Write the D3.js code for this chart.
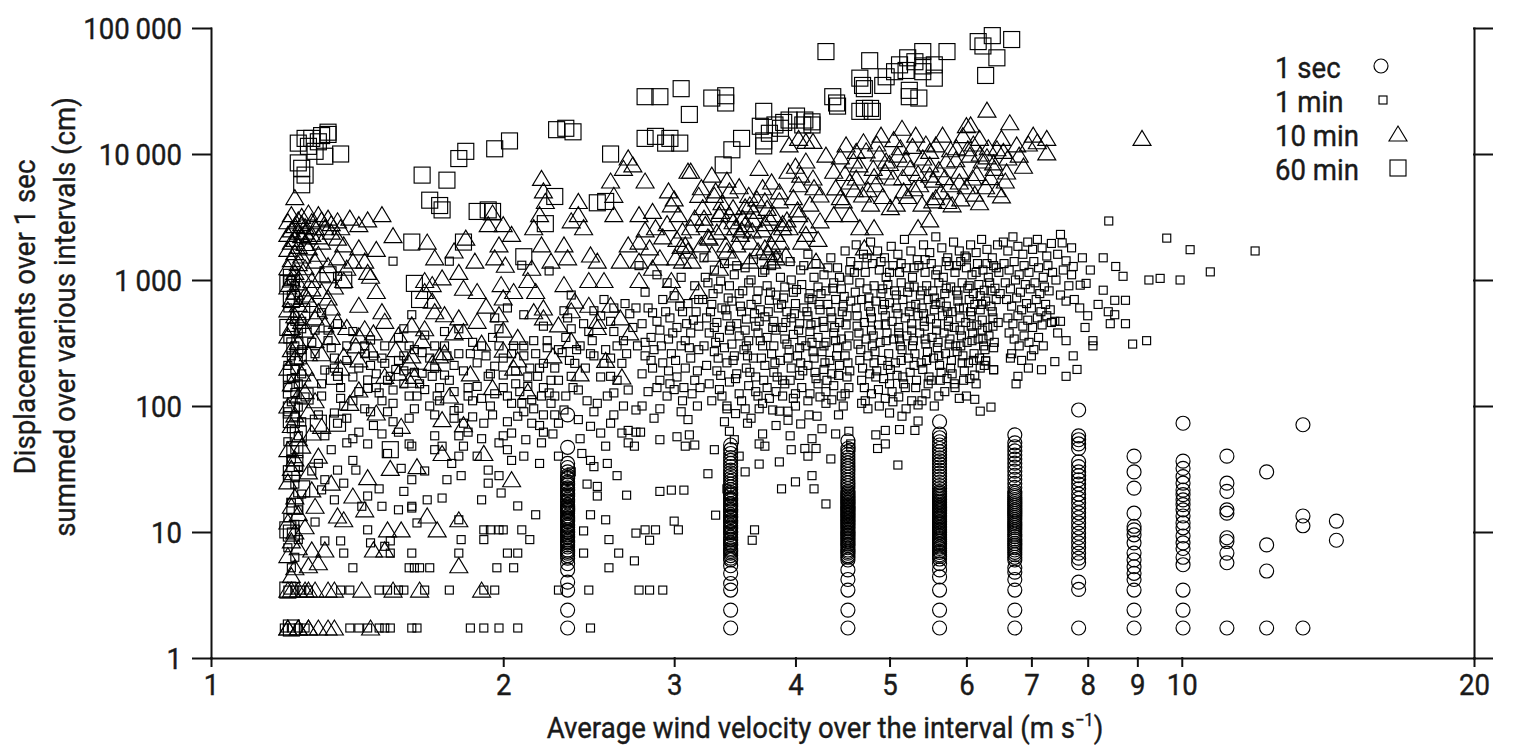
<!DOCTYPE html>
<html>
<head>
<meta charset="utf-8">
<script src="https://cdn.jsdelivr.net/npm/d3@7"></script>
<style>
  body { margin: 0; background: #fff; }
  text { font-family: Roboto, "Liberation Sans", sans-serif; fill: #1a1a1a; stroke: #1a1a1a; stroke-width: 0.4px; }
</style>
</head>
<body>
<svg id="chart" width="1515" height="753"></svg>
<script>
// ---- data (velocity m/s, displacement cm) ----
const xTicks = [1, 2, 3, 4, 5, 6, 7, 8, 9, 10, 20];
const yTicks = [1, 10, 100, 1000, 10000, 100000];
const legendNames = ["1 sec", "1 min", "10 min", "60 min"];

// 1 sec: velocities come in columns
const secVel = [2.33, 3.43, 4.53, 5.63, 6.73, 7.83, 8.93, 10.03, 11.13, 12.23, 13.33, 14.43];
const secDisp = [
  [1.73,2.4,3.46,4.0,5.0,5.6,6.2,6.5,6.8,7.0,7.2,7.6,7.9,8.2,8.4,8.6,9.0,9.2,9.5,9.9,10.1,10.4,10.9,11.2,11.5,12.1,12.4,12.7,13.0,13.4,14.1,14.5,14.9,15.2,15.6,16.0,16.4,17.3,17.7,18.2,19.2,19.7,20.2,21.3,21.8,22.4,23.6,24.2,25,26.5,27,28,30,32.5,35,47,85],
  [1.73,2.4,3.46,3.9,4.7,5.4,6.0,6.2,6.5,6.8,7.0,7.2,7.4,7.8,8.0,8.2,8.6,8.8,9.1,9.6,9.9,10.1,10.6,10.9,11.2,11.8,12.1,12.4,13.0,13.3,13.7,14.4,14.8,15.2,16.0,16.4,16.8,17.7,18.2,18.6,19.6,20.1,20.6,21.7,22.8,24,25.3,26.6,28,29.5,31,33,35,37,39,42,45,49],
  [1.73,2.4,3.46,4.2,5.0,6.0,6.3,6.5,6.8,7.0,7.2,7.5,7.8,8.0,8.3,8.5,8.8,9.0,9.3,9.5,9.8,10,10.3,10.6,10.9,11.2,11.5,11.8,12.1,12.4,12.8,13.1,13.5,13.8,14.2,14.5,14.9,15.3,15.7,16.1,16.5,17,17.4,17.9,18.4,18.9,19.4,19.9,20.5,21,22.1,23.3,24.5,25.8,27.2,28.7,30.2,31.8,33.5,35.3,37.2,39.2,41.3,43.5,46,53],
  [1.73,2.4,3.46,4.4,5.0,5.6,6.1,6.4,6.6,6.9,7.1,7.4,7.6,7.9,8.1,8.4,8.7,9.0,9.3,9.6,9.9,10.2,10.5,10.8,11.1,11.5,11.8,12.1,12.5,12.9,13.2,13.6,14.0,14.4,14.8,15.2,15.7,16.1,16.6,17.1,17.6,18.1,18.6,19.2,19.7,20.3,20.9,22.1,23.4,24.8,26.2,27.7,29.3,31,32.8,34.7,36.7,38.8,41,43.5,46,49,52,56,60,75],
  [1.73,2.4,3.46,4.2,4.8,5.2,6.0,6.3,6.6,6.9,7.2,7.5,7.8,8.1,8.5,8.8,9.2,9.6,10.0,10.4,10.8,11.2,11.6,12.0,12.5,13.0,13.5,14.0,14.5,15.0,15.6,16.2,16.8,17.4,18.1,18.8,19.5,20.2,21,22.6,24.3,26.2,28.2,30.4,32.7,35.2,37.9,40.8,44,47.5,51,59],
  [1.73,3.5,4.0,5.7,6.2,6.8,7.5,8.2,9,9.8,10.8,11.8,13,14.2,15.5,17,18.5,20,22,24,26,28,30,33,36,46,50,54,58,93],
  [1.73,2.4,3.46,4.2,4.7,5.3,6.0,6.8,8.2,9.5,10.4,11.1,14.1,22.3,30,40],
  [1.73,2.4,3.46,5.5,6.3,7.4,8.2,9.3,10.8,11.8,13.4,15,16.5,18,19.8,21.5,24.4,27.5,32,36.5,73],
  [1.73,5.7,6.8,8.4,9.0,14.1,15,21,24.4,40],
  [1.73,4.9,7.9,30],
  [1.73,11.2,13.4,71],
  [8.6,12.2]
];

// 1 min
const minPts = [
  [1.20,1000],[1.22,900],[1.21,760],[1.23,690],[1.20,600],[1.22,520],[1.24,470],[1.21,420],[1.23,380],[1.20,340],[1.22,300],[1.24,280],[1.21,250],[1.23,230],[1.20,210],[1.22,195],[1.24,180],[1.21,165],[1.23,150],[1.20,140],[1.22,128],[1.25,118],[1.21,108],[1.23,98],[1.20,90],[1.22,82],[1.24,75],[1.21,66],[1.23,58],[1.20,52],[1.22,45],[1.21,38],[1.23,33],[1.20,28],[1.22,24],[1.24,20],[1.21,17],[1.23,15],[1.20,13],[1.22,11.5],[1.21,10],[1.23,8.7],[1.20,7.5],[1.22,6.3],[1.21,5.2],[1.20,3.46],[1.22,3.46],[1.24,3.46],[1.26,3.46],[1.19,1.73],[1.21,1.73],[1.23,1.73],[1.25,1.73],
  [1.27,320],[1.31,193],[1.35,172],[1.30,120],[1.34,88],[1.35,73],[1.31,58],[1.38,51],[1.33,45],[1.29,35],[1.27,30.5],[1.31,26],[1.35,31],[1.37,24.4],[1.30,21.6],
  [1.40,37],[1.41,31],[1.45,161],[1.45,138],[1.49,127],[1.54,134],[1.53,172],[1.51,218],[1.58,250],[1.60,300],[1.65,265],[1.61,48],[1.61,26],[1.61,16],[1.58,21],[1.56,15],
  [1.28,400],[1.24,410],[1.22,470],[1.30,550],[1.32,400],[1.35,450],[1.40,390],[1.46,334],[1.56,350],[1.58,410],[1.61,530],[1.66,365],[1.21,990],[1.35,1070],
  [1.28,260],[1.33,290],[1.38,230],[1.42,200],[1.30,150],[1.36,140],[1.40,110],[1.44,95],[1.48,180],[1.50,110],[1.52,90],[1.47,70],[1.42,62],[1.56,62],[1.60,80],[1.63,120],[1.58,150],[1.55,195],[1.62,185],[1.47,250],[1.51,300],[1.44,300],[1.34,240],[1.29,85],[1.37,100],[1.45,50],[1.52,42],[1.57,32],[1.49,22],[1.43,16],[1.34,18],[1.28,12],[1.36,8.5],[1.45,10.4],[1.53,8.5],[1.46,8.2],[1.51,7.7],[1.31,8.5],[1.63,11.8],[1.45,19.3],[1.50,16],[1.61,15.5],
  [1.39,1.73],[1.42,1.73],[1.45,1.73],[1.49,1.73],[1.51,1.73],[1.53,1.73],[1.61,1.73],[1.63,1.73],[1.36,3.46],[1.39,3.46],[1.49,3.46],[1.52,3.46],[1.56,3.46],[1.58,3.46],[1.40,5.2],[1.60,5.2],[1.62,5.2],[1.64,5.2],[1.37,6.8],[1.53,6.8],[1.61,6.8],
  [1.69,172],[1.71,120],[1.74,176],[1.65,182],[1.73,48],[1.70,58],[1.66,30.5],
  [1.80,96],[1.84,120],[1.88,143],[1.93,172],[1.96,207],[2.00,176],[2.04,105],[2.07,83],[2.09,105],[2.12,143],[2.17,172],[2.20,218],[1.80,58],[1.82,48],[1.88,40],[1.93,31],[1.98,28],[1.99,20.4],[2.04,37],[2.11,54],[2.14,73],[2.19,51],[2.20,85],[2.19,120],[1.91,73],[1.82,73],[1.77,35],[1.81,28],[1.93,24.4],[1.98,51],[2.04,61],[2.24,105],[2.23,127],
  [1.54,1410],[1.76,1410],[2.09,1310],[2.23,1180],[2.10,530],[2.02,600],[1.96,500],[1.98,410],[1.80,410],[1.74,390],[2.20,430],
  [1.70,300],[1.75,250],[1.78,210],[1.85,260],[1.90,300],[1.95,350],[2.00,240],[2.05,300],[2.10,250],[2.15,330],[2.22,290],[2.26,200],[2.13,200],[1.72,140],[1.68,100],[1.86,110],[2.06,150],[2.28,160],[1.78,80],[1.95,85],[2.15,95],[2.25,60],[1.84,62],[2.02,45],[1.90,18],[2.18,35],[2.28,40],[1.75,26],
  [1.32,330],[1.38,300],[1.44,260],[1.50,240],[1.56,230],[1.62,280],[1.68,240],[1.74,300],[1.80,260],[1.86,320],[1.92,250],[1.98,300],[2.04,260],[2.10,300],[2.16,260],[2.22,330],[2.28,280],[1.34,200],[1.40,170],[1.46,210],[1.52,160],[1.58,190],[1.64,150],[1.70,200],[1.76,160],[1.82,190],[1.88,220],[1.94,180],[2.00,140],[2.06,190],[2.12,170],[2.18,200],[2.24,160],
  [1.36,115],[1.42,130],[1.48,140],[1.54,105],[1.60,120],[1.66,135],[1.72,110],[1.78,130],[1.84,140],[1.90,115],[1.96,125],[2.02,120],[2.08,130],[2.14,112],[2.20,140],[2.26,120],[1.38,80],[1.46,90],[1.54,75],[1.62,95],[1.70,85],[1.78,92],[1.86,82],[1.94,100],[2.02,75],[2.10,90],[2.18,70],[2.26,85],[1.40,55],[1.50,60],[1.60,50],[1.70,45],[1.80,40],[1.90,55],[2.00,58],[2.10,40],[2.20,62],
  [1.73,18.6],[1.67,18],[2.07,16.1],[2.16,13.7],[1.80,12.5],[1.91,10.4],[1.94,10.4],[1.98,10.4],[2.00,10.4],[2.09,10.4],[1.81,8.7],[1.91,8.7],[2.13,8.7],[1.80,6.8],[2.02,6.8],[2.07,6.8],[1.68,5.2],[1.97,5.2],[2.05,5.2],[1.66,3.46],[1.76,3.46],[1.91,3.46],[1.96,3.46],[2.28,3.46],[1.85,1.73],[1.91,1.73],[1.98,1.73],[2.07,1.73],
  [2.30,265],[2.35,172],[2.39,134],[2.48,250],[2.54,218],[2.58,172],[2.65,218],[2.69,134],[2.28,73],[2.39,78],[2.46,69],[2.52,61],[2.58,73],[2.65,61],[2.69,51],[2.41,42],[2.46,37],[2.48,33],[2.56,35],[2.69,64],[2.31,93],[2.50,105],[2.60,127],[2.37,218],
  [2.46,13.7],[2.55,12.5],[2.50,19.3],[2.50,23],[2.68,19.6],[2.42,10.2],[2.63,6.8],[2.42,6.8],[2.57,8.7],[2.57,5.2],[2.45,3.46],[2.46,1.73],
  [2.67,650],[2.35,760],[2.54,700],[2.31,570],[2.48,570],[2.58,470],[2.35,410],[2.45,390],[2.60,390],
  [2.33,500],[2.42,450],[2.52,520],[2.60,600],[2.70,540],[2.38,280],[2.46,260],[2.58,240],[2.66,330],[2.72,420],[2.82,600],[2.94,560],[3.04,620],[3.16,560],[2.88,470],[2.99,380],[3.09,450],[2.80,320],[2.91,300],[3.01,230],[3.11,290],[2.84,230],[2.97,150],[3.07,140],[3.17,190],
  [2.90,21],[2.98,21.5],[3.07,21.5],[3.00,12.2],[3.03,10.4],[2.80,10.4],[2.87,10.4],[2.83,8.6],[2.74,9.8],[2.73,5.9],[2.76,3.46],[2.83,3.46],[2.92,3.46],[3.11,59],[3.02,57],[2.90,54],[3.08,48],[3.15,49],[2.74,62],[2.77,62],[2.73,48],[2.74,93],
  [2.75,300],[2.80,250],[2.86,280],[2.92,220],[2.98,260],[3.05,300],[3.12,240],[3.18,280],[2.78,180],[2.85,200],[2.90,160],[2.96,190],[3.02,170],[3.08,200],[3.15,160],[2.82,130],[2.88,140],[2.95,120],[3.00,135],[3.06,110],[3.13,125],[3.19,140],[2.78,100],[2.90,95],[3.05,90],[3.17,100],[2.86,80],[3.10,78],
  [2.76,1300],[2.88,1100],[2.95,950],[3.05,1050],[3.15,900],[2.80,800],[2.92,700],[3.00,750],[3.10,650],[3.18,700],[2.74,600],[2.85,550],[2.97,500],[3.06,560],[3.14,480],[2.78,450],[2.90,400],[3.02,420],[3.12,380],[3.18,430],[2.84,350],[2.96,340],[3.08,330],
  [2.32,350],[2.40,300],[2.47,330],[2.55,280],[2.62,300],[2.68,260],[2.34,230],[2.43,200],[2.52,170],[2.62,160],[2.36,140],[2.44,110],[2.56,120],[2.66,100],[2.32,120],[2.48,90],[2.60,85],[2.40,55],[2.55,48],[2.35,30],[2.62,28],[2.44,24],
  [3.22,1500],[3.30,1200],[3.38,1350],[3.46,1100],[3.55,1250],[3.62,1450],[3.70,1150],[3.78,1300],[3.86,1050],[3.95,1400],[4.05,1200],[4.12,1600],[4.20,1350],[4.28,1100],[4.35,1500],[4.42,1250],[4.50,1700],[4.56,1400],
  [3.25,950],[3.33,850],[3.42,900],[3.50,780],[3.58,950],[3.66,820],[3.74,900],[3.82,760],[3.90,880],[3.98,800],[4.06,920],[4.14,780],[4.22,880],[4.30,820],[4.38,950],[4.46,850],[4.54,1000],
  [3.21,700],[3.28,640],[3.36,600],[3.44,680],[3.52,560],[3.60,640],[3.68,580],[3.76,690],[3.84,600],[3.92,560],[4.00,650],[4.08,600],[4.16,700],[4.24,580],[4.32,640],[4.40,700],[4.48,620],[4.56,680],
  [3.24,500],[3.32,460],[3.40,520],[3.48,450],[3.56,490],[3.64,430],[3.72,510],[3.80,470],[3.88,420],[3.96,500],[4.04,450],[4.12,520],[4.20,460],[4.28,420],[4.36,500],[4.44,460],[4.52,520],
  [3.26,380],[3.34,350],[3.42,400],[3.50,360],[3.58,330],[3.66,380],[3.74,350],[3.82,400],[3.90,340],[3.98,370],[4.06,330],[4.14,390],[4.22,350],[4.30,320],[4.38,380],[4.46,340],[4.54,360],
  [3.22,300],[3.30,270],[3.38,290],[3.46,250],[3.54,280],[3.62,240],[3.70,300],[3.78,260],[3.86,230],[3.94,280],[4.02,250],[4.10,300],[4.18,240],[4.26,270],[4.34,230],[4.42,290],[4.50,250],
  [3.24,210],[3.32,190],[3.40,220],[3.48,180],[3.56,200],[3.64,170],[3.72,210],[3.80,185],[3.88,160],[3.96,200],[4.04,175],[4.12,210],[4.20,165],[4.28,195],[4.36,180],[4.44,210],[4.52,170],
  [3.26,150],[3.34,135],[3.42,155],[3.50,125],[3.58,145],[3.66,120],[3.74,140],[3.82,130],[3.90,150],[3.98,115],[4.06,140],[4.14,125],[4.22,150],[4.30,130],[4.38,145],[4.46,120],[4.54,140],
  [3.28,110],[3.40,100],[3.55,95],[3.67,95],[3.79,93],[3.85,91],[3.93,91],[3.93,77],[4.13,85],[4.21,83],[4.43,85],[3.47,87],[3.40,95],[3.57,73],[3.42,63],[3.46,54],[4.54,63],[4.56,50],[4.56,47],[3.70,105],[4.00,100],[4.30,105],[4.48,100],
  [3.23,1050],[3.35,980],[3.48,1300],[3.60,1000],[3.72,1200],[3.84,1500],[3.96,1000],[4.08,1300],[4.18,1050],[4.32,1250],[4.44,1050],[4.55,1200],[3.29,780],[3.41,720],[3.53,820],[3.65,700],[3.77,800],[3.89,720],[4.01,840],[4.13,720],[4.25,780],[4.37,860],[4.49,740],
  [3.27,560],[3.39,580],[3.51,620],[3.63,540],[3.75,560],[3.87,640],[3.99,540],[4.11,560],[4.23,640],[4.35,560],[4.47,560],[3.30,420],[3.43,430],[3.55,400],[3.67,470],[3.79,420],[3.91,460],[4.03,400],[4.15,440],[4.27,470],[4.39,420],[4.51,440],
  [3.31,320],[3.44,310],[3.56,300],[3.68,330],[3.80,300],[3.92,310],[4.04,290],[4.16,320],[4.28,300],[4.40,330],[4.52,300],[3.33,240],[3.45,230],[3.57,250],[3.69,240],[3.81,220],[3.93,240],[4.05,220],[4.17,270],[4.29,220],[4.41,250],[4.53,220],
  [3.35,175],[3.47,165],[3.59,185],[3.71,160],[3.83,170],[3.95,160],[4.07,190],[4.19,185],[4.31,160],[4.43,175],[4.55,190],[3.36,120],[3.52,110],[3.64,130],[3.76,115],[3.88,120],[4.00,125],[4.12,110],[4.24,118],[4.36,112],[4.50,125],
  [3.38,75],[3.60,80],[3.82,70],[4.05,72],[4.26,66],[4.40,60],[3.70,60],[3.95,58],[4.12,40],[3.55,30],[3.85,36],[4.35,38],[3.40,22],[4.00,25],
  [3.25,29],[3.31,13.6],[3.63,10.4],[3.61,8.6],[3.87,22],[4.18,22],[4.16,28],[4.30,16.7],[3.67,34.6],[3.96,45],[4.09,46],[4.20,46],[4.16,55],[3.67,50],[3.72,48],[3.30,45],[3.50,40],
  [4.62,1900],[4.70,1600],[4.78,2000],[4.86,1700],[4.94,1500],[5.02,1850],[5.10,1600],[5.18,2100],[5.26,1700],[5.34,1450],[5.42,1900],[5.50,1650],[5.58,2200],[5.66,1800],[5.74,1500],[5.82,2000],[5.90,1700],[5.98,1550],[6.06,1900],[6.14,1650],[6.22,2100],[6.30,1750],[6.38,1500],[6.46,1900],
  [4.64,1300],[4.72,1150],[4.80,1350],[4.88,1200],[4.96,1050],[5.04,1300],[5.12,1150],[5.20,1250],[5.28,1050],[5.36,1300],[5.44,1150],[5.52,1350],[5.60,1200],[5.68,1050],[5.76,1300],[5.84,1150],[5.92,1400],[6.00,1250],[6.08,1100],[6.16,1350],[6.24,1200],[6.32,1050],[6.40,1300],[6.48,1150],
  [4.66,950],[4.74,850],[4.82,900],[4.90,780],[4.98,920],[5.06,820],[5.14,950],[5.22,800],[5.30,880],[5.38,760],[5.46,900],[5.54,820],[5.62,950],[5.70,780],[5.78,880],[5.86,820],[5.94,950],[6.02,860],[6.10,780],[6.18,920],[6.26,830],[6.34,950],[6.42,860],[6.50,780],
  [4.68,700],[4.76,620],[4.84,680],[4.92,580],[5.00,660],[5.08,600],[5.16,700],[5.24,560],[5.32,640],[5.40,600],[5.48,700],[5.56,580],[5.64,660],[5.72,620],[5.80,560],[5.88,680],[5.96,600],[6.04,700],[6.12,640],[6.20,580],[6.28,680],[6.36,620],[6.44,700],
  [4.63,520],[4.71,460],[4.79,500],[4.87,440],[4.95,520],[5.03,470],[5.11,420],[5.19,500],[5.27,450],[5.35,520],[5.43,430],[5.51,490],[5.59,450],[5.67,520],[5.75,470],[5.83,420],[5.91,500],[5.99,460],[6.07,520],[6.15,440],[6.23,480],[6.31,420],[6.39,500],[6.47,460],
  [4.65,380],[4.73,340],[4.81,360],[4.89,320],[4.97,380],[5.05,340],[5.13,300],[5.21,360],[5.29,330],[5.37,380],[5.45,310],[5.53,350],[5.61,320],[5.69,380],[5.77,340],[5.85,300],[5.93,360],[6.01,320],[6.09,380],[6.17,340],[6.25,300],[6.33,360],[6.41,320],
  [4.67,280],[4.75,250],[4.83,270],[4.91,230],[4.99,260],[5.07,220],[5.15,280],[5.23,240],[5.31,260],[5.39,220],[5.47,270],[5.55,240],[5.63,210],[5.71,260],[5.79,230],[5.87,270],[5.95,250],[6.03,220],[6.11,260],[6.19,240],[6.27,280],
  [4.69,200],[4.77,180],[4.85,190],[4.93,165],[5.01,195],[5.09,175],[5.17,150],[5.25,185],[5.33,160],[5.41,195],[5.49,170],[5.52,160],[5.65,185],[5.73,165],[5.83,150],[5.97,190],[6.12,176],[6.05,165],[6.28,228],[6.40,194],[6.20,200],
  [4.71,140],[4.79,125],[4.87,135],[4.95,115],[5.03,130],[5.11,118],[5.19,140],[5.27,110],[5.35,102],[5.56,100],[5.45,125],[5.70,130],[5.84,140],[6.12,113],[6.20,91],[6.36,98],[6.00,120],[5.35,76],[5.15,83],[5.31,64],[5.12,65],[4.95,64],[4.84,59],[4.95,50],[4.86,46],[5.10,34],[4.75,95],[4.68,105],[5.00,88],
  [4.60,1150],[4.74,1500],[4.90,1400],[5.00,1150],[5.14,1350],[5.30,1250],[5.44,1450],[5.58,1100],[5.72,1400],[5.86,1300],[6.00,1500],[6.14,1150],[6.30,1350],[6.44,1250],[4.61,800],[4.76,720],[4.92,850],[5.08,760],[5.24,880],[5.40,820],[5.56,720],[5.72,860],[5.88,760],[6.04,900],[6.20,750],[6.36,820],
  [4.62,600],[4.78,560],[4.94,640],[5.10,540],[5.26,620],[5.42,540],[5.58,640],[5.74,560],[5.90,600],[6.06,560],[6.22,640],[6.38,560],[4.63,430],[4.79,400],[4.95,440],[5.11,380],[5.27,400],[5.43,470],[5.59,400],[5.75,430],[5.91,400],[6.07,430],[6.23,400],[6.39,430],
  [4.64,310],[4.80,300],[4.96,330],[5.12,340],[5.28,300],[5.44,340],[5.60,290],[5.76,310],[5.92,300],[6.08,330],[6.24,340],[6.40,290],[4.66,230],[4.82,220],[4.98,210],[5.14,230],[5.30,210],[5.46,230],[5.62,250],[5.78,200],[5.94,220],[6.10,230],[6.26,210],
  [4.68,160],[4.84,170],[5.00,150],[5.16,170],[5.32,140],[5.48,150],[5.64,160],[5.80,180],[5.96,160],[6.14,150],[4.72,110],[4.88,100],[5.04,108],[5.20,95],[5.40,110],[5.62,120],[5.90,115],
  [6.55,2000],[6.62,1700],[6.70,2200],[6.78,1850],[6.86,1600],[6.94,2000],[7.02,1750],[7.10,2100],[7.18,1800],[7.26,1550],[7.34,1950],[6.56,1350],[6.64,1200],[6.72,1400],[6.80,1100],[6.88,1300],[6.96,1150],[7.04,1400],[7.12,1250],[7.20,1050],[7.28,1300],[7.36,1150],
  [6.58,950],[6.66,850],[6.74,1000],[6.82,800],[6.90,920],[6.98,850],[7.06,950],[7.14,780],[7.22,880],[7.30,820],[6.60,700],[6.68,620],[6.76,720],[6.84,580],[6.92,650],[7.00,600],[7.08,700],[7.16,560],[7.24,640],[7.32,580],
  [6.62,500],[6.70,450],[6.78,520],[6.86,430],[6.94,480],[7.02,420],[7.10,500],[7.18,440],[7.26,520],[7.34,460],[6.64,380],[6.72,340],[6.80,300],[6.88,360],[6.96,320],[7.04,280],[7.12,350],[7.20,300],[6.68,260],[6.84,230],[7.00,250],[6.95,200],
  [6.75,150],[6.78,172],[7.17,194],[6.66,240],[6.40,194],[6.28,228],
  [7.53,1970],[7.60,1420],[7.73,1280],[7.70,1100],[7.86,910],[7.50,760],[7.60,680],[7.40,470],[7.50,470],[8.10,330],[7.90,1500],[8.30,1500],[7.97,940],
  [7.40,225],[7.73,250],[7.80,195],[7.60,172],[8.10,300],
  [7.45,1600],[7.55,1200],[7.65,900],[7.75,700],[7.85,600],[8.00,520],[7.45,380],[7.60,330],[7.95,420],[8.20,640],[8.40,560],[8.05,1200],[7.70,1800],[7.50,2300],[7.42,1000],
  [8.41,2940],[9.65,2150],[10.2,1740],[11.9,1700],[10.7,1160],[9.25,1000],[9.50,1030],[9.96,1000],[8.55,1280],[8.70,1070],[8.30,830],[8.53,690],[8.75,690],[8.53,530],[8.44,450],[8.75,450],[9.20,330],[8.90,310]
];

// 10 min
const tenPts = [
  [1.22,4500],[1.21,3300],[1.23,3000],[1.20,2900],[1.24,2800],[1.22,2700],[1.25,2650],[1.21,2500],[1.23,2400],[1.20,2300],[1.24,2250],[1.26,2200],[1.22,2100],[1.21,2000],[1.25,1950],[1.23,1850],[1.20,1750],[1.22,1650],[1.24,1550],[1.21,1450],[1.23,1350],[1.20,1250],[1.22,1150],[1.24,1100],[1.21,1000],[1.23,950],[1.20,880],[1.22,800],[1.25,760],[1.21,700],[1.23,640],[1.20,580],[1.22,520],[1.24,470],[1.21,420],[1.20,360],[1.23,320],[1.21,280],[1.22,240],[1.20,200],[1.24,180],[1.21,150],[1.23,120],[1.20,100],[1.22,85],[1.21,70],[1.23,55],[1.20,45],[1.22,38],[1.21,32],[1.20,25],[1.22,19],[1.21,16],[1.23,14],[1.20,12],[1.22,10],[1.21,8.5],[1.23,7.5],[1.20,6.5],[1.22,5.2],[1.21,4.5],[1.20,3.46],[1.23,3.46],[1.26,3.46],[1.20,1.73],[1.23,1.73],[1.26,1.73],
  [1.24,3200],[1.27,2900],[1.30,3000],[1.33,2800],[1.28,2600],[1.25,2400],[1.29,2200],[1.33,2400],[1.36,2600],[1.26,1800],[1.29,1600],[1.32,1300],[1.25,1250],[1.30,1100],[1.27,850],[1.34,880],[1.26,700],[1.29,560],[1.25,400],[1.28,330],[1.26,260],[1.25,200],[1.27,160],[1.25,130],[1.28,110],[1.26,90],[1.29,40],[1.26,30],[1.28,16],[1.25,11],
  [1.26,3400],[1.29,3300],[1.32,3100],[1.35,2950],[1.39,3100],[1.42,2750],[1.45,3000],[1.50,3300],[1.54,2250],[1.42,1800],[1.48,1750],[1.40,1410],[1.44,1410],[1.35,1500],[1.30,2000],[1.27,2300],[1.31,2600],[1.35,2150],[1.37,1900],[1.28,1410],[1.27,990],[1.30,810],[1.32,720],[1.27,630],[1.42,630],[1.46,1070],[1.48,810],[1.45,1150],[1.38,1240],[1.37,990],
  [1.67,2000],[1.70,1500],[1.66,990],[1.69,920],[1.66,810],[1.69,680],[1.73,1040],[1.78,1700],[1.83,2150],[1.87,1410],[1.80,1150],[1.82,860],[1.88,810],[1.93,2750],[1.95,3400],[2.00,2750],[2.04,2300],[1.98,1900],[1.96,1500],[2.01,1310],[1.99,920],[2.00,720],[2.05,810],[2.19,6400],[2.20,5100],[2.21,4200],[2.18,3300],[2.15,2600],[2.19,1900],[2.14,1240],[2.12,990],[2.16,810],[2.24,1410],[2.31,1900],[2.33,1500],[2.39,3300],[2.42,2600],[2.39,4200],[2.35,2950],[2.46,1580],[2.50,1410],[2.45,990],[2.54,990],[2.60,4700],[2.58,6100],[2.66,7700],[2.69,9300],[2.60,3300],[2.69,1900],[2.64,1410],[2.31,920],[2.20,600],[2.37,680],
  [2.20,500],[2.28,440],[2.35,570],[2.45,630],[2.50,470],[2.58,630],[2.64,500],[1.98,530],[2.00,400],[2.07,350],[1.88,470],[1.82,390],[1.80,500],[1.74,530],[1.66,410],[1.61,440],[1.56,365],[1.51,470],[1.44,410],[1.42,360],[1.35,470],[1.31,440],
  [1.56,182],[1.62,172],[1.76,120],[1.73,78],[1.82,71],[1.73,42],[1.91,42],[2.04,26],[1.63,33],[1.53,32],[1.45,27],[1.40,19.3],[1.37,12.5],[1.35,13.4],[1.44,15],[1.67,13.4],[1.80,12.5],[1.57,10.4],[1.52,10.4],[1.71,10.4],[1.51,7.2],[1.47,7.2],[1.80,5.4],[1.31,7.2],[1.27,7.2],[1.29,5.7],[1.26,5.4],
  [1.21,3.46],[1.25,3.46],[1.28,3.46],[1.32,3.46],[1.34,3.46],[1.43,3.46],[1.54,3.46],[1.64,3.46],[1.90,3.46],
  [1.20,1.73],[1.23,1.73],[1.26,1.73],[1.29,1.73],[1.32,1.73],[1.34,1.73],[1.46,1.73],
  [1.51,172],[1.60,160],[1.42,134],[1.39,105],[1.48,88],[1.57,69],[1.30,69],[1.27,61],[1.24,48],[1.33,24.4],[1.27,21.6],[1.90,315],[2.00,278],[2.07,232],[1.74,265],[1.69,218],[1.61,250],[1.46,278],[1.37,250],[1.42,232],
  [1.28,500],[1.33,350],[1.38,420],[1.30,260],[1.36,200],[1.41,300],[1.47,380],[1.55,280],[1.60,220],[1.65,330],[1.72,250],[1.78,380],[1.85,180],[1.95,140],[2.05,200],[2.12,130],[2.25,250],[2.40,180],[2.55,230],[2.65,170],[2.70,380],[2.50,420],[2.35,330],[2.15,560],[1.92,620],[1.70,560],[1.50,560],[1.33,600],
  [2.76,3300],[2.80,6100],[2.87,2600],[2.76,2000],[2.83,1800],[2.90,1500],[2.96,5100],[2.98,3950],[3.03,3300],[3.06,2450],[3.08,1900],[3.12,7300],[3.13,1410],[3.18,4700],[3.21,3750],[3.23,2750],[3.26,2150],[3.28,6800],[3.31,5100],[3.34,3300],[3.37,2600],[3.39,1900],[3.42,5100],[3.45,3750],[3.47,2600],[3.51,2300],[3.53,3100],[3.55,2750],[3.59,3950],[3.61,2450],[3.67,7700],[3.70,5400],[3.72,4250],[3.76,3100],[3.78,1900],[3.82,1500],[3.85,4250],[3.88,2600],[3.18,810],[3.34,1240],[2.98,990],[3.06,1410],
  [2.76,1410],[2.85,1240],[3.01,1500],[3.45,1500],[3.59,1410],[3.72,1800],[3.91,1580],[3.78,1410],[4.20,1410],[4.71,1800],[3.01,760],[2.76,990],
  [2.85,3500],[2.95,2800],[3.00,4400],[3.15,3100],[3.25,2200],[3.35,3500],[3.45,2900],[3.55,3800],[3.62,3000],[3.70,2500],[3.80,3300],[3.88,2800],[3.20,1900],[3.40,1700],[3.60,2000],[3.75,1650],[2.92,2200],[3.05,1850],[2.80,2500],[3.30,4700],[3.50,5500],[3.65,4400],[3.85,5000],
  [3.02,2100],[3.12,2600],[3.22,3100],[3.32,2400],[3.42,3300],[3.52,2500],[3.62,3500],[3.72,2800],[3.82,2300],[3.92,3000],[4.02,3600],[4.12,2700],[3.10,1700],[3.28,1600],[3.48,1900],[3.66,1700],[3.86,2000],[4.06,2000],[4.22,2100],[3.20,5400],[3.40,6200],[3.58,4700],[3.78,6000],[3.98,4500],[4.18,5400],[3.36,4100],[3.74,3700],[4.14,4000],
  [3.93,7300],[4.03,5700],[4.10,8800],[4.17,6450],[4.24,4730],[4.30,9800],[4.38,7300],[4.40,5380],[4.48,4250],[4.51,11800],[4.59,8800],[4.62,6450],[4.69,4730],[4.73,10600],[4.81,7700],[4.84,5700],[4.90,14100],[4.96,8800],[5.01,3750],[5.04,6450],[5.13,11200],[5.17,5100],[5.25,7700],[5.32,14100],[5.37,5700],[5.41,9300],[5.50,6800],[5.54,4250],[5.58,11800],[5.67,14100],[5.72,8800],[5.77,5700],[5.86,11200],[5.91,7300],[6.00,16800],[6.05,9800],[6.09,6450],[6.19,13300],[6.23,8800],[6.32,11200],[6.41,7700],[6.52,13300],[6.62,9300],[6.76,11800],[6.87,8000],[7.03,14100],[7.26,13300],[7.26,10200],[6.65,17700],[6.06,17000],[6.30,22300],
  [6.52,4650],[6.19,4100],[6.58,6100],[5.80,3950],[5.50,3000],[5.35,2600],[4.82,2600],[4.24,2950],[4.03,3300],[3.94,2600],[4.10,2300],[4.55,3300],[4.66,2600],[4.38,3300],[3.94,11800],[4.03,13300],[4.10,12600],[4.17,12600],[4.00,8000],[3.10,7300],[2.72,8200],[4.05,6800],[9.10,13300],
  [4.45,9500],[4.70,12500],[4.88,10000],[5.05,13000],[5.20,9000],[5.45,12000],[5.62,7500],[5.85,9000],[6.10,12000],[6.30,9500],[6.45,11000],[5.95,14000],[5.15,16000],[4.55,6000],[4.75,5200],[5.30,5300],[5.65,5000],[6.00,5500],[6.35,6500],[4.95,7200],[5.50,8200],
  [4.45,4500],[4.60,5200],[4.78,4000],[4.92,4600],[5.08,4000],[5.22,4600],[5.40,4000],[5.58,4500],[5.74,4200],[5.92,4400],[6.12,4800],[6.28,5500],[6.45,5200],[4.50,7000],[4.65,8200],[4.82,6600],[5.00,8400],[5.16,6500],[5.35,7000],[5.55,6200],[5.70,6500],[5.90,6000],[6.15,7000],[6.40,8500],[6.60,7200],[6.80,9800],[6.95,12000],[7.10,12500],[4.62,10500],[4.85,12000],[5.10,9800],[5.28,11500],[5.50,10500],[5.78,10800],[6.02,11000],[6.20,10000],[6.55,10500]
];

// 60 min
const hourPts = [
  [1.23,12200],[1.25,13300],[1.27,13300],[1.32,14300],[1.32,14900],[1.31,9600],[1.36,10000],[1.24,7700],[1.25,6800],[1.24,5700],[1.23,8500],[1.29,12500],[1.30,14000],[1.26,11500],[1.28,10500],
  [1.65,6800],[1.75,6200],[1.68,4300],[1.72,3900],[1.73,3600],[1.80,9200],[1.83,10500],[1.96,11000],[2.03,12700],[2.27,15600],[2.32,16000],[2.36,15000],[2.58,10000],[1.88,3500],[1.95,3500],[2.21,2800],[1.61,2000],[2.55,4200],[2.26,4600],[2.50,4100],[2.10,1530],[1.82,2000],[1.93,3600],
  [2.80,28500],[2.90,28500],[3.05,33000],[3.11,20600],[3.28,27800],[3.39,29000],[3.39,25400],
  [2.80,13300],[2.87,13800],[2.94,12200],[3.04,12200],[2.97,13300],[3.37,8200],[3.44,10800],[3.52,13300],[3.71,21800],[3.68,16600],[3.71,12700],[3.81,17000],[3.89,17800],[4.01,20000],[4.09,18600],[4.16,17000],[3.76,14600],[3.86,16000],[3.94,18600],[4.07,17000],[4.16,18000],[3.71,11600],
  [4.30,65000],[4.77,55000],[4.66,40000],[4.69,35000],[4.92,35000],[5.06,45000],[5.22,58000],[5.41,65000],[5.41,50000],[5.56,51000],[5.56,40000],[5.73,65000],[5.24,32000],[5.24,28500],[4.37,28500],[4.42,24000],[4.66,21800],[4.78,23000],[4.71,33000],[4.96,41000],[5.12,51000],[5.31,54000],[5.20,46000],[5.41,45000],[4.41,25400],[4.71,23000],[4.80,21800],[5.36,27800],
  [6.17,78000],[6.38,87000],[6.68,81000],[6.24,72000],[6.45,58000],[6.28,42000],
  [1.21,182],[1.21,134],[1.21,93],[1.21,78],[1.22,35],[1.21,29],[1.20,10.4],[1.21,9.8],[1.20,3.46],[1.21,1.73],[1.29,73],[1.35,73],[1.34,172],[1.53,45],[1.62,940],[1.64,700],[1.32,1100],[1.37,1000],[1.21,1050],[1.20,940],[1.22,300],[1.23,250],[1.20,420],[1.24,560],[1.21,700],[1.25,120],[1.23,60],[1.22,45],[1.24,22],[1.22,16]
];

// ---- layout ----
const svg = d3.select("#chart");
const x = d3.scaleLog().domain([1, 20]).range([211, 1474]);
const y = d3.scaleLog().domain([1, 100000]).range([658, 28]);
const squeeze = "scale(0.92,1)";   // narrow the face to look like a condensed sans
const fontSize = 30;

const fmtY = d => d3.format(",")(d).replace(/,/g, "\u2009");

// axes
const gLeft = svg.append("g").attr("transform", "translate(211,0)")
  .call(d3.axisLeft(y).tickValues(yTicks).tickFormat(fmtY).tickSize(18).tickSizeOuter(0).tickPadding(13.5));
const gRight = svg.append("g").attr("transform", "translate(1474,0)")
  .call(d3.axisRight(y).tickValues(yTicks).tickFormat("").tickSize(18).tickSizeOuter(0));
const gBottom = svg.append("g").attr("transform", "translate(0,658)")
  .call(d3.axisBottom(x).tickValues(xTicks).tickFormat(d3.format("d")).tickSize(8).tickSizeOuter(0).tickPadding(7));

[gLeft, gRight, gBottom].forEach(g => {
  g.attr("font-family", null).attr("font-size", null);
  g.selectAll("path, line").attr("stroke", "#111").attr("stroke-width", 2).attr("stroke-linecap", "square");
  g.selectAll("text").attr("font-size", fontSize).attr("fill", "#1a1a1a").attr("transform", squeeze);
});
gLeft.selectAll("text").attr("dy", "0.36em");
gBottom.selectAll("text").attr("dy", "0.74em");

// axis titles
svg.append("text")
  .attr("transform", "translate(825,738) " + squeeze)
  .attr("text-anchor", "middle").attr("font-size", fontSize)
  .text("Average wind velocity over the interval (m s")
  .call(t => t.append("tspan").attr("font-size", 18).attr("dy", -12).text("\u22121"))
  .call(t => t.append("tspan").attr("dy", 12).text(")"));

svg.append("text")
  .attr("transform", "translate(35,317) rotate(-90) " + squeeze)
  .attr("text-anchor", "middle").attr("font-size", fontSize)
  .text("Displacements over 1 sec");
svg.append("text")
  .attr("transform", "translate(75,317) rotate(-90) " + squeeze)
  .attr("text-anchor", "middle").attr("font-size", fontSize)
  .text("summed over various intervals (cm)");

// marks
const ink = g => g.attr("fill", "none").attr("stroke", "#000").attr("stroke-width", 1.15);
const tri = (cx, cy) => `M${cx - 9},${cy + 7}L${cx + 9},${cy + 7}L${cx},${cy - 8}Z`;

const secPts = secVel.flatMap((v, i) => secDisp[i].map(d => [v, d]));

svg.append("g").call(ink).selectAll("path").data(tenPts).join("path")
  .attr("d", d => tri(x(d[0]), y(d[1])));

svg.append("g").call(ink).selectAll("rect").data(hourPts).join("rect")
  .attr("x", d => x(d[0]) - 8).attr("y", d => y(d[1]) - 8)
  .attr("width", 16).attr("height", 16);

svg.append("g").call(ink).selectAll("rect").data(minPts).join("rect")
  .attr("x", d => x(d[0]) - 4).attr("y", d => y(d[1]) - 4)
  .attr("width", 8).attr("height", 8);

svg.append("g").call(ink).selectAll("circle").data(secPts).join("circle")
  .attr("cx", d => x(d[0])).attr("cy", d => y(d[1])).attr("r", 7);

// legend
const legend = svg.append("g");
legendNames.forEach((name, i) => {
  legend.append("text")
    .attr("transform", `translate(1275,${78 + i * 34}) ` + squeeze)
    .attr("font-size", fontSize).text(name);
});
const lg = legend.append("g").call(ink);
lg.append("circle").attr("cx", 1381).attr("cy", 66).attr("r", 7);
lg.append("rect").attr("x", 1379).attr("y", 96).attr("width", 8).attr("height", 8);
lg.append("path").attr("d", tri(1398, 134));
lg.append("rect").attr("x", 1390).attr("y", 160).attr("width", 16).attr("height", 16);
</script>
</body>
</html>
